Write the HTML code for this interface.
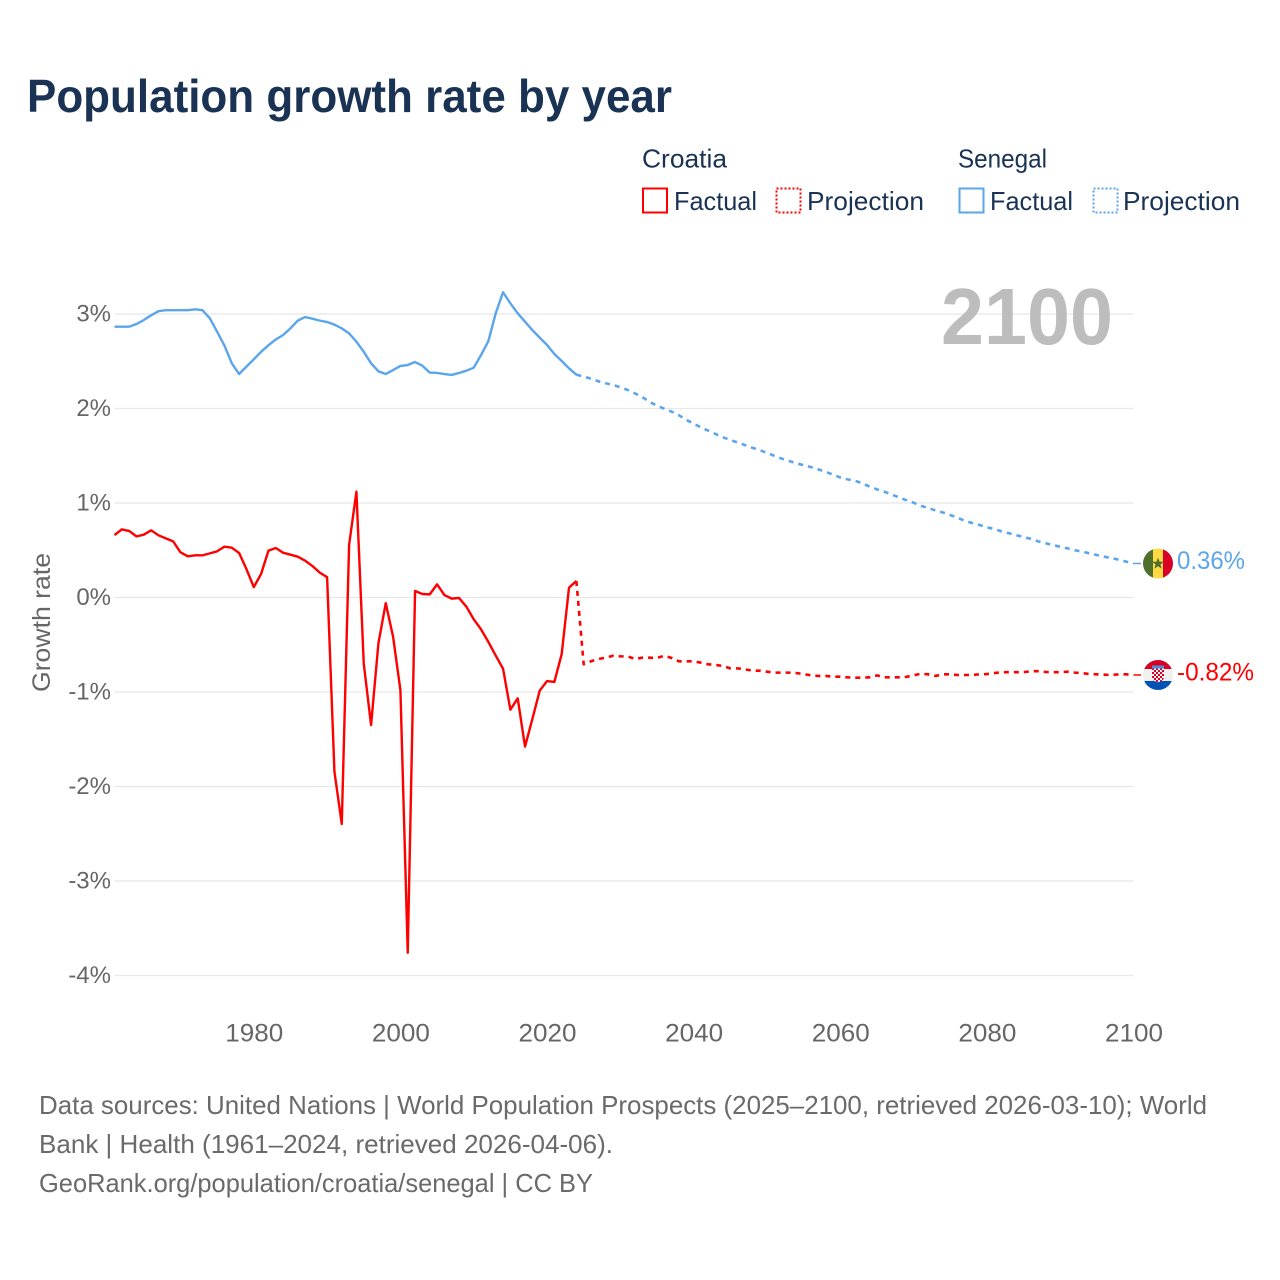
<!DOCTYPE html>
<html lang="en">
<head>
<meta charset="utf-8">
<title>Population growth rate by year</title>
<style>
  html, body { margin: 0; padding: 0; background: #fff; }
  svg { display: block; }
  text { font-family: "Liberation Sans", sans-serif; }
</style>
</head>
<body>
<svg id="chart" xmlns="http://www.w3.org/2000/svg" width="1280" height="1280" viewBox="0 0 1280 1280">
  <rect x="0" y="0" width="1280" height="1280" fill="#ffffff"/>
  <text x="27" y="112" font-size="46" font-weight="700" fill="#1a3354" textLength="645" lengthAdjust="spacingAndGlyphs">Population growth rate by year</text>

  <g>
    <text x="642" y="167.500" font-size="26" fill="#1a3354" textLength="85" lengthAdjust="spacingAndGlyphs">Croatia</text>
    <text x="958" y="167.500" font-size="26" fill="#1a3354" textLength="89" lengthAdjust="spacingAndGlyphs">Senegal</text>
    <rect x="643" y="188.500" width="24" height="24" fill="none" stroke="#ff0000" stroke-width="2"/>
    <text x="674" y="210" font-size="26" fill="#1a3354" textLength="83" lengthAdjust="spacingAndGlyphs">Factual</text>
    <rect x="776.500" y="188.500" width="24" height="24" fill="none" stroke="#ff0000" stroke-width="2" stroke-dasharray="2 2"/>
    <text x="807" y="210" font-size="26" fill="#1a3354" textLength="117" lengthAdjust="spacingAndGlyphs">Projection</text>
    <rect x="959.500" y="188.500" width="24" height="24" fill="none" stroke="#5ba5ec" stroke-width="2"/>
    <text x="990" y="210" font-size="26" fill="#1a3354" textLength="83" lengthAdjust="spacingAndGlyphs">Factual</text>
    <rect x="1093.500" y="188.500" width="24" height="24" fill="none" stroke="#5ba5ec" stroke-width="2" stroke-dasharray="2 2"/>
    <text x="1123" y="210" font-size="26" fill="#1a3354" textLength="117" lengthAdjust="spacingAndGlyphs">Projection</text>
  </g>

  <g id="grid"></g>
  <g id="y-ticks"></g>
  <g id="x-ticks"></g>
  <text transform="translate(50,622.500) rotate(-90)" text-anchor="middle" font-size="25" fill="#666666" textLength="139" lengthAdjust="spacingAndGlyphs">Growth rate</text>

  <text x="941" y="344" font-size="80" font-weight="700" fill="#bdbdbd" textLength="172" lengthAdjust="spacingAndGlyphs">2100</text>

  <g id="series"></g>

  <defs>
    <clipPath id="clip-senegal"><circle id="clip-senegal-circle" cx="1158" cy="563" r="15"/></clipPath>
    <clipPath id="clip-croatia"><circle id="clip-croatia-circle" cx="1158" cy="675" r="15"/></clipPath>
    <pattern id="checker" x="1152" y="668" width="4" height="4" patternUnits="userSpaceOnUse">
      <rect x="0" y="0" width="4" height="4" fill="#f4f4f4"/>
      <rect x="0" y="0" width="2" height="2" fill="#d80027"/>
      <rect x="2" y="2" width="2" height="2" fill="#d80027"/>
    </pattern>
  </defs>

  <g id="flag-senegal" clip-path="url(#clip-senegal)">
    <rect x="1143" y="548" width="10" height="30" fill="#4f6f2c"/>
    <rect x="1153" y="548" width="10" height="30" fill="#ffda44"/>
    <rect x="1163" y="548" width="10" height="30" fill="#d80027"/>
    <polygon points="1158,557 1159.500,561.200 1164,561.300 1160.400,564 1161.700,568.300 1158,565.800 1154.300,568.300 1155.600,564 1152,561.300 1156.500,561.200" fill="#4f6f2c"/>
  </g>
  <g id="flag-croatia" clip-path="url(#clip-croatia)">
    <rect x="1143" y="660" width="30" height="9" fill="#d80027"/>
    <rect x="1143" y="669" width="30" height="12" fill="#f0f0f0"/>
    <rect x="1143" y="681" width="30" height="9" fill="#0052b4"/>
    <rect x="1152" y="665.500" width="12" height="3" fill="#4a90d9"/>
    <path d="M1152 668.500h12v9q0 3-6 5q-6-2-6-5z" fill="url(#checker)"/>
  </g>

  <text id="label-senegal" x="1177" y="570" font-size="25" fill="#5ba5ec" textLength="68" lengthAdjust="spacingAndGlyphs"></text>
  <text id="label-croatia" x="1177" y="681" font-size="25" fill="#ff0000" textLength="77" lengthAdjust="spacingAndGlyphs"></text>

  <g>
    <text x="39" y="1114" font-size="26" fill="#6a6a6a" textLength="1168" lengthAdjust="spacingAndGlyphs">Data sources: United Nations | World Population Prospects (2025–2100, retrieved 2026-03-10); World</text>
    <text x="39" y="1153" font-size="26" fill="#6a6a6a" textLength="574" lengthAdjust="spacingAndGlyphs">Bank | Health (1961–2024, retrieved 2026-04-06).</text>
    <text x="39" y="1192" font-size="26" fill="#6a6a6a" textLength="554" lengthAdjust="spacingAndGlyphs">GeoRank.org/population/croatia/senegal | CC BY</text>
  </g>
</svg>

<script>
const firstYear = 1961;
const lastYear = 2100;
const lastFactualYear = 2024;
const yTickValues = [3, 2, 1, 0, -1, -2, -3, -4];
const yTickLabels = ['3%', '2%', '1%', '0%', '-1%', '-2%', '-3%', '-4%'];
const xTickYears = [1980, 2000, 2020, 2040, 2060, 2080, 2100];

// Growth rate (%) for each year from 1961 to 2024
const croatiaFactual = [
  0.661, 0.721, 0.704, 0.647, 0.665, 0.711, 0.658, 0.626, 0.594, 0.478,
  0.436, 0.446, 0.446, 0.467, 0.489, 0.538, 0.527, 0.471, 0.300, 0.110,
  0.250, 0.496, 0.524, 0.474, 0.453, 0.432, 0.390, 0.333, 0.263, 0.215,
  -1.843, -2.397, 0.556, 1.120, -0.700, -1.350, -0.485, -0.060, -0.415, -0.980,
  -3.759, 0.069, 0.037, 0.033, 0.139, 0.026, -0.012, -0.005, -0.097, -0.231,
  -0.337, -0.470, -0.615, -0.753, -1.187, -1.067, -1.578, -1.286, -0.986, -0.884,
  -0.894, -0.598, 0.104, 0.175
];

// Growth rate (%) for each year from 2025 to 2100
const croatiaProjection = [
  -0.707, -0.675, -0.651, -0.637, -0.616, -0.623, -0.623, -0.651, -0.637, -0.637,
  -0.640, -0.616, -0.640, -0.675, -0.675, -0.675, -0.690, -0.707, -0.714, -0.725,
  -0.750, -0.750, -0.760, -0.774, -0.774, -0.785, -0.795, -0.795, -0.795, -0.800,
  -0.810, -0.824, -0.830, -0.830, -0.838, -0.838, -0.845, -0.848, -0.848, -0.845,
  -0.824, -0.845, -0.845, -0.845, -0.840, -0.824, -0.806, -0.813, -0.830, -0.813,
  -0.813, -0.820, -0.820, -0.820, -0.813, -0.810, -0.800, -0.790, -0.790, -0.790,
  -0.790, -0.780, -0.780, -0.788, -0.790, -0.790, -0.785, -0.795, -0.800, -0.810,
  -0.813, -0.817, -0.820, -0.813, -0.813, -0.820
];

const senegalFactual = [
  2.866, 2.866, 2.866, 2.894, 2.936, 2.986, 3.030, 3.040, 3.040, 3.040,
  3.040, 3.050, 3.040, 2.954, 2.813, 2.665, 2.478, 2.365, 2.443, 2.520,
  2.600, 2.670, 2.730, 2.778, 2.848, 2.930, 2.968, 2.950, 2.930, 2.915,
  2.887, 2.848, 2.795, 2.707, 2.600, 2.478, 2.393, 2.365, 2.407, 2.450,
  2.460, 2.492, 2.453, 2.380, 2.376, 2.365, 2.355, 2.376, 2.400, 2.432,
  2.566, 2.714, 3.007, 3.230, 3.113, 3.007, 2.919, 2.830, 2.750, 2.672,
  2.577, 2.503, 2.425, 2.358
];

const senegalProjection = [
  2.337, 2.316, 2.288, 2.267, 2.250, 2.224, 2.196, 2.160, 2.120, 2.070,
  2.030, 1.998, 1.967, 1.928, 1.880, 1.840, 1.800, 1.765, 1.730, 1.695,
  1.667, 1.640, 1.613, 1.585, 1.560, 1.530, 1.500, 1.470, 1.445, 1.420,
  1.400, 1.380, 1.356, 1.330, 1.300, 1.270, 1.250, 1.236, 1.208, 1.173,
  1.145, 1.120, 1.090, 1.060, 1.030, 1.003, 0.970, 0.947, 0.920, 0.900,
  0.873, 0.845, 0.810, 0.788, 0.767, 0.743, 0.725, 0.700, 0.680, 0.660,
  0.640, 0.620, 0.594, 0.574, 0.555, 0.537, 0.520, 0.500, 0.485, 0.467,
  0.450, 0.432, 0.417, 0.400, 0.380, 0.360
];

const NS = 'http://www.w3.org/2000/svg';
const xLeft = 114.5;
const xRight = 1133.5;
const yAtZero = 597.5;
const yPerPercent = 94.5;

function xScale(year) {
  return xLeft + (year - firstYear) * (xRight - xLeft) / (lastYear - firstYear);
}
function yScale(value) {
  return yAtZero - value * yPerPercent;
}
function makeText(content, x, y, anchor, parent) {
  const t = document.createElementNS(NS, 'text');
  t.setAttribute('x', x);
  t.setAttribute('y', y);
  t.setAttribute('text-anchor', anchor);
  t.setAttribute('font-size', '24');
  t.setAttribute('fill', '#666666');
  t.textContent = content;
  parent.appendChild(t);
  return t;
}
function toPoints(values, startYear) {
  return values.map(function (v, i) {
    return xScale(startYear + i).toFixed(2) + ',' + yScale(v).toFixed(2);
  }).join(' ');
}
function makeLine(points, color, dashed, parent) {
  const p = document.createElementNS(NS, 'polyline');
  p.setAttribute('points', points);
  p.setAttribute('fill', 'none');
  p.setAttribute('stroke', color);
  p.setAttribute('stroke-width', dashed ? '2.6' : '2.4');
  p.setAttribute('stroke-linejoin', 'round');
  if (dashed) p.setAttribute('stroke-dasharray', '5 5');
  parent.appendChild(p);
  return p;
}

const gridGroup = document.getElementById('grid');
const yTickGroup = document.getElementById('y-ticks');
const xTickGroup = document.getElementById('x-ticks');
const seriesGroup = document.getElementById('series');

yTickValues.forEach(function (v, i) {
  const g = document.createElementNS(NS, 'line');
  g.setAttribute('x1', xLeft);
  g.setAttribute('x2', xRight);
  g.setAttribute('y1', yScale(v));
  g.setAttribute('y2', yScale(v));
  g.setAttribute('stroke', '#e8e8e8');
  g.setAttribute('stroke-width', '1.3');
  
  
  gridGroup.appendChild(g);
  const t = makeText(yTickLabels[i], 111, yScale(v) + 7.5, 'end', yTickGroup);
  
  
});

xTickYears.forEach(function (year) {
  const t = makeText(String(year), xScale(year) + 0.5, 1041.5, 'middle', xTickGroup);
  t.setAttribute('font-size', '25');
  t.setAttribute('textLength', '58');
  t.setAttribute('lengthAdjust', 'spacingAndGlyphs');
  
  
});

const seriesColors = { croatia: '#ff0000', senegal: '#5ba5ec' };

const croatiaFactualLine = makeLine(toPoints(croatiaFactual, firstYear), seriesColors.croatia, false, seriesGroup);



const croatiaJoined = [croatiaFactual[croatiaFactual.length - 1]].concat(croatiaProjection);
const croatiaProjectionLine = makeLine(toPoints(croatiaJoined, lastFactualYear), seriesColors.croatia, true, seriesGroup);



const senegalFactualLine = makeLine(toPoints(senegalFactual, firstYear), seriesColors.senegal, false, seriesGroup);



const senegalJoined = [senegalFactual[senegalFactual.length - 1]].concat(senegalProjection);
const senegalProjectionLine = makeLine(toPoints(senegalJoined, lastFactualYear), seriesColors.senegal, true, seriesGroup);



function placeEnd(values, flagId, clipId, labelId, color, connectorName) {
  const last = values[values.length - 1];
  const y = yScale(last);
  const c = document.createElementNS(NS, 'line');
  c.setAttribute('x1', xRight);
  c.setAttribute('x2', xRight + 7.5);
  c.setAttribute('y1', y);
  c.setAttribute('y2', y);
  c.setAttribute('stroke', color);
  c.setAttribute('stroke-width', '1.5');
  
  
  seriesGroup.appendChild(c);
  const flagOffset = y - Number(document.getElementById(clipId).getAttribute('cy'));
  document.getElementById(flagId).setAttribute('transform', 'translate(0,' + flagOffset.toFixed(2) + ')');
  const label = document.getElementById(labelId);
  label.setAttribute('y', (y + 5.5).toFixed(2));
  label.textContent = last.toFixed(2) + '%';
}
placeEnd(senegalProjection, 'flag-senegal', 'clip-senegal-circle', 'label-senegal', seriesColors.senegal, 'senegal-end-connector');
placeEnd(croatiaProjection, 'flag-croatia', 'clip-croatia-circle', 'label-croatia', seriesColors.croatia, 'croatia-end-connector');
</script>
</body>
</html>
